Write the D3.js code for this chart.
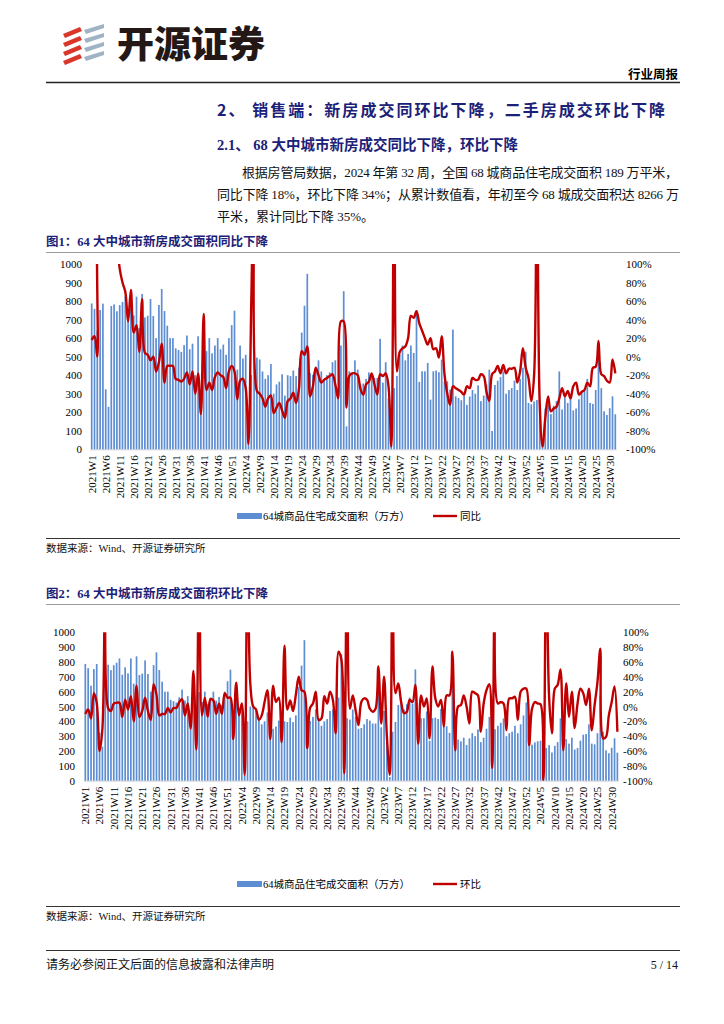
<!DOCTYPE html>
<html><head><meta charset="utf-8">
<script src="https://cdn.jsdelivr.net/npm/d3@7"></script>
<style>body{margin:0;background:#fff}svg{display:block}</style>
</head><body>
<svg id="page" width="724" height="1024"></svg>
<script>
// ---------------- DATA ----------------
const periods = [["2021",52],["2022",52],["2023",52],["2024",32]];
const weeks = periods.flatMap(([y,n]) => d3.range(1,n+1).map(w => `${y}W${w}`));

// 64城商品住宅成交面积（万方）
const area = [
 787,758,640,752,786,324,229,773,782,745,
 778,795,824,714,764,723,824,654,838,712,
 721,811,719,600,779,865,746,667,600,600,
 545,536,526,562,614,540,570,400,610,260,
 596,530,600,518,560,600,540,565,510,600,
 670,748,
 430,560,490,510,40,400,500,495,485,420,
 380,400,460,300,350,365,405,290,400,395,
 425,395,440,630,775,947,412,402,430,480,
 420,370,400,415,470,480,330,560,853,124,
 421,412,480,430,350,355,380,415,405,385,
 385,596,
 360,470,275,25,330,396,510,560,480,515,
 560,520,750,364,421,421,466,268,421,425,
 416,484,367,367,322,646,286,277,265,290,
 240,285,320,300,345,260,290,350,430,99,
 347,370,390,420,300,320,330,370,320,380,
 440,527,
 250,243,258,266,270,41,220,240,190,235,
 260,420,215,280,250,290,210,220,270,310,
 315,380,250,245,320,572,330,205,185,222,
 286,189
];

// 同比 (%)
const yoy = [
 18,22,0,200,200,200,200,200,200,130,
 95,80,70,38,72,26,34,5,62,4,
 2,-4,0,-16,-6,14,-28,-10,-10,-10,
 -24,-25,-27,-24,-17,-30,-16,-40,-18,-62,
 46,-36,-28,-36,-22,-17,-20,-22,-34,-16,
 -10,-16,-46,-26,-24,-34,-94,60,200,-37,
 -40,-45,-54,-45,-42,-61,-55,-50,-58,-66,
 -48,-45,-39,-50,-35,6,2,11,-43,-32,
 -12,-20,-28,-25,-23,-21,-19,-30,-45,38,
 38,-55,-21,-18,-18,-20,-35,-41,-30,-27,
 -18,-30,-41,-19,-21,-18,-32,-97,200,-16,
 5,9,11,20,44,42,49,36,28,20,
 13,20,8,9,-1,22,-19,-40,-52,-32,
 -34,-36,-38,-41,-32,-34,-23,-25,-25,-19,
 -21,-38,-48,-19,-16,-10,-18,-9,-18,-13,
 -13,-12,-28,-16,9,-12,-23,-48,-20,200,
 -50,-97,-66,-43,-59,-56,-54,-45,-34,-43,
 -37,-45,-32,-28,-41,-38,-36,-28,-32,-12,
 -11,17,-19,-21,-26,-28,-3,-18
];

// 环比 (%)
const mom = [
 -10,-4,-16,18,5,-60,-30,200,-2,-6,
 4,5,5,-14,9,-4,14,-20,28,-14,
 -6,12,-6,-18,30,16,-12,-10,-10,-2,
 -8,-2,-2,6,10,-12,4,-30,48,-58,
 200,-12,12,-14,10,8,-10,4,-10,18,
 12,12,-44,32,-12,4,-92,200,30,0,
 -4,-18,-12,6,22,-44,28,6,12,-48,
 82,-4,8,-6,16,40,22,20,-56,-2,
 4,20,-18,-16,14,4,20,9,-36,74,
 63,-90,200,-3,15,-5,-25,6,11,9,
 -3,-7,-3,54,-23,40,-41,-92,200,18,
 31,6,-9,-7,9,6,29,-50,15,0,
 11,-43,54,11,0,9,-27,15,15,74,
 -59,0,2,15,0,-23,20,18,15,-34,
 4,22,30,-83,200,4,6,4,-32,11,
 11,13,-18,20,24,24,-52,-3,6,4,
 3,-99,200,13,-36,24,29,50,-59,31,
 -14,20,-29,4,24,18,2,24,-32,2,
 33,78,-43,-41,-12,6,27,-34
];

const leftTicks = [0,100,200,300,400,500,600,700,800,900,1000];
const rightTicks = [-100,-80,-60,-40,-20,0,20,40,60,80,100];
const xLabelWeeks = weeks.filter((d,i) => i % 5 === 0);
const seriesNames = ["64城商品住宅成交面积（万方）", "同比", "环比"];

// ---------------- STYLE ----------------
const svg = d3.select("#page");
const CJK = "'Noto Sans CJK SC', sans-serif";
const SERIF = "'Liberation Serif', 'Noto Sans CJK SC', serif";
const NAVY = "#1c2178";
const BAR = "#5d8dd2";
const RED = "#c00000";

svg.append("rect").attr("width",724).attr("height",1024).attr("fill","#fff");

// ---------------- HEADER ----------------
const logo = svg.append("g");
for (let k = 0; k < 4; k++) {
  const y0 = 27 + k * 9;
  logo.append("polygon")
    .attr("points", `${63},${y0+7} ${80},${y0} ${82},${y0+4} ${65},${y0+11}`)
    .attr("fill", "#d9372a");
}
for (let k = 0; k < 4; k++) {
  const y0 = 24 + k * 9;
  logo.append("polygon")
    .attr("points", `${84},${y0+6} ${104},${y0} ${104},${y0+4} ${86},${y0+10}`)
    .attr("fill", "#9fb3c4");
}
svg.append("text").attr("x",117).attr("y",58).text("开源证券")
  .attr("font-family",CJK).attr("font-weight",900).attr("font-size",37).attr("fill","#231815");
svg.append("text").attr("x",678).attr("y",79).attr("text-anchor","end").text("行业周报")
  .attr("font-family",CJK).attr("font-weight",700).attr("font-size",12.5).attr("fill","#000");
svg.append("line").attr("x1",46).attr("x2",680).attr("y1",82.5).attr("y2",82.5).attr("stroke","#222").attr("stroke-width",1.5);

svg.append("text").attr("x",217).attr("y",116).text("2、 销售端：新房成交同环比下降，二手房成交环比下降")
  .attr("font-family",CJK).attr("font-weight",700).attr("font-size",16).attr("fill",NAVY)
  .attr("textLength",448).attr("lengthAdjust","spacing");
svg.append("text").attr("x",217).attr("y",150).text("2.1、 68 大中城市新房成交同比下降，环比下降")
  .attr("font-family",SERIF).attr("font-weight",700).attr("font-size",14.5).attr("fill",NAVY)
  .attr("textLength",301).attr("lengthAdjust","spacing");

const para = [
  {x:242, y:177, w:436, t:"根据房管局数据，2024 年第 32 周，全国 68 城商品住宅成交面积 189 万平米，"},
  {x:217, y:199, w:462, t:"同比下降 18%，环比下降 34%；从累计数值看，年初至今 68 城成交面积达 8266 万"},
  {x:217, y:221, w:0,   t:"平米，累计同比下降 35%。"}
];
para.forEach(p => {
  const t = svg.append("text").attr("x",p.x).attr("y",p.y).text(p.t)
    .attr("font-family",SERIF).attr("font-size",13).attr("fill","#111");
  if (p.w) t.attr("textLength",p.w).attr("lengthAdjust","spacing");
});

// ---------------- CHART ----------------
function drawChart(cfg) {
  const g = svg.append("g");
  g.append("text").attr("x",46).attr("y",cfg.titleY).text(cfg.title)
    .attr("font-family",SERIF).attr("font-weight",700).attr("font-size",12.5).attr("fill",NAVY);
  g.append("line").attr("x1",46).attr("x2",680).attr("y1",cfg.titleY+6.5).attr("y2",cfg.titleY+6.5)
    .attr("stroke","#9a9a9a").attr("stroke-width",1);

  const x = d3.scaleBand().domain(weeks).range([cfg.x0, cfg.x1]);
  const yL = d3.scaleLinear().domain([0,1000]).range([cfg.yBottom, cfg.yTop]);
  const yR = d3.scaleLinear().domain([-100,100]).range([cfg.yBottom, cfg.yTop]);
  const cx = (d,i) => x(weeks[i]) + x.bandwidth()/2;

  g.append("line").attr("x1",cfg.x0).attr("x2",cfg.x1).attr("y1",cfg.yBottom+0.5).attr("y2",cfg.yBottom+0.5)
    .attr("stroke","#d4d4d4").attr("stroke-width",1);

  const bw = 1.7;
  g.append("g").selectAll("rect").data(area).join("rect")
    .attr("x",(d,i) => cx(d,i) - bw/2)
    .attr("y",d => yL(d))
    .attr("width",bw)
    .attr("height",d => yL(0) - yL(d))
    .attr("fill",BAR);

  const clipId = "clip" + cfg.id;
  svg.append("clipPath").attr("id",clipId).append("rect")
    .attr("x",cfg.x0 - 4).attr("y",cfg.yTop).attr("width",cfg.x1 - cfg.x0 + 8).attr("height",cfg.yBottom - cfg.yTop);
  const line = d3.line().x(cx).y(d => yR(d)).curve(d3.curveCatmullRom.alpha(0.5));
  g.append("path").attr("clip-path",`url(#${clipId})`).attr("d",line(cfg.series))
    .attr("fill","none").attr("stroke",RED).attr("stroke-width",2.4).attr("stroke-linejoin","round");

  const la = g.append("g").attr("transform",`translate(${cfg.leftLabelX},0)`)
    .call(d3.axisLeft(yL).tickValues(leftTicks).tickSize(0).tickPadding(0).tickFormat(d3.format("d")));
  la.select(".domain").remove();
  la.selectAll("text").attr("font-family",SERIF).attr("font-size",11).attr("fill","#000");

  const ra = g.append("g").attr("transform",`translate(${cfg.rightLabelX},0)`)
    .call(d3.axisRight(yR).tickValues(rightTicks).tickSize(0).tickPadding(0).tickFormat(d => d + "%"));
  ra.select(".domain").remove();
  ra.selectAll("text").attr("font-family",SERIF).attr("font-size",11).attr("fill","#000");

  const ba = g.append("g").attr("transform",`translate(0,${cfg.yBottom})`)
    .call(d3.axisBottom(x).tickValues(xLabelWeeks).tickSize(0));
  ba.select(".domain").remove();
  ba.selectAll("text").attr("transform","rotate(-90)").attr("x",-cfg.xLabelGap).attr("y",0)
    .attr("dy","0.35em").attr("text-anchor","end")
    .attr("font-family",SERIF).attr("font-size",11).attr("fill","#000");

  const lg = g.append("g");
  lg.append("rect").attr("x",237).attr("y",cfg.legendY-3).attr("width",25).attr("height",6).attr("fill",BAR);
  lg.append("text").attr("x",263).attr("y",cfg.legendY+4).text(seriesNames[0])
    .attr("font-family",SERIF).attr("font-size",10.5).attr("fill","#000");
  lg.append("line").attr("x1",433).attr("x2",457).attr("y1",cfg.legendY).attr("y2",cfg.legendY)
    .attr("stroke",RED).attr("stroke-width",2.4);
  lg.append("text").attr("x",460).attr("y",cfg.legendY+4).text(cfg.lineName)
    .attr("font-family",SERIF).attr("font-size",10.5).attr("fill","#000");

  g.append("line").attr("x1",46).attr("x2",680).attr("y1",cfg.sourceY).attr("y2",cfg.sourceY)
    .attr("stroke","#333").attr("stroke-width",1);
  g.append("text").attr("x",46).attr("y",cfg.sourceY+13).text("数据来源：Wind、开源证券研究所")
    .attr("font-family",SERIF).attr("font-size",10.5).attr("fill","#111");
}

drawChart({
  id:1, title:"图1：64 大中城市新房成交面积同比下降", titleY:246,
  x0:90.3, x1:616.7, yTop:264, yBottom:449.3,
  leftLabelX:82, rightLabelX:626, xLabelGap:6,
  series:yoy, lineName:seriesNames[1], legendY:516, sourceY:538.5
});
drawChart({
  id:2, title:"图2：64 大中城市新房成交面积环比下降", titleY:598,
  x0:83.9, x1:618.8, yTop:632.3, yBottom:780.7,
  leftLabelX:75, rightLabelX:623, xLabelGap:6,
  series:mom, lineName:seriesNames[2], legendY:884, sourceY:906.5
});

// ---------------- FOOTER ----------------
svg.append("line").attr("x1",46).attr("x2",680).attr("y1",950.5).attr("y2",950.5).attr("stroke","#333").attr("stroke-width",1);
svg.append("text").attr("x",46).attr("y",969).text("请务必参阅正文后面的信息披露和法律声明")
  .attr("font-family",SERIF).attr("font-size",12).attr("fill","#111");
svg.append("text").attr("x",678).attr("y",969).attr("text-anchor","end").text("5 / 14")
  .attr("font-family",SERIF).attr("font-size",12).attr("fill","#111");
</script>
</body></html>
